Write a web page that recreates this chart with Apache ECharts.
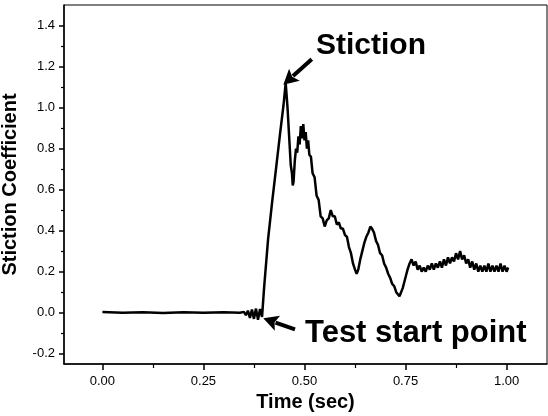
<!DOCTYPE html>
<html>
<head>
<meta charset="utf-8">
<script src="https://cdn.jsdelivr.net/npm/echarts@6/dist/echarts.min.js"></script>
<style>html,body{margin:0;padding:0;background:#fff}#c{width:548px;height:416px}</style>
</head>
<body>
<div id="c"></div>
<script>
var xTicks = [0, 0.25, 0.5, 0.75, 1.0];
var xMinorTicks = [0.125, 0.375, 0.625, 0.875];
var yTicks = [-0.2, 0, 0.2, 0.4, 0.6, 0.8, 1.0, 1.2, 1.4];
var yMinorTicks = [-0.1, 0.1, 0.3, 0.5, 0.7, 0.9, 1.1, 1.3];

var time = [0, 0.05, 0.10, 0.15, 0.20, 0.25, 0.30, 0.34, 0.35, 0.355, 0.36, 0.365, 0.37, 0.375, 0.38, 0.385, 0.39, 0.395,
  0.40, 0.41, 0.42, 0.43, 0.44, 0.448, 0.4535, 0.458, 0.462, 0.466, 0.469, 0.471, 0.473, 0.476, 0.479, 0.482, 0.485,
  0.488, 0.491, 0.494, 0.497, 0.50, 0.503, 0.506, 0.509, 0.512, 0.516, 0.52, 0.525, 0.53, 0.535, 0.54, 0.545, 0.55,
  0.555, 0.56, 0.565, 0.57, 0.575, 0.58, 0.585, 0.59, 0.595, 0.60, 0.605, 0.61, 0.615, 0.62, 0.625, 0.629, 0.633,
  0.638, 0.643, 0.648, 0.653, 0.658, 0.663, 0.667, 0.672, 0.677, 0.682, 0.687, 0.692, 0.697, 0.702, 0.707, 0.712,
  0.717, 0.722, 0.727, 0.731, 0.735, 0.739, 0.743, 0.747, 0.751, 0.755, 0.76, 0.765, 0.77, 0.775, 0.78, 0.785, 0.79,
  0.795, 0.80, 0.805, 0.81, 0.815, 0.82, 0.825, 0.83, 0.835, 0.84, 0.845, 0.85, 0.855, 0.86, 0.865, 0.87, 0.875, 0.88,
  0.885, 0.89, 0.895, 0.90, 0.905, 0.91, 0.915, 0.92, 0.925, 0.93, 0.935, 0.94, 0.945, 0.95, 0.955, 0.96, 0.965, 0.97,
  0.975, 0.98, 0.985, 0.99, 0.995, 1.00, 1.004];
var coefficient = [0.003, 0.000, 0.002, -0.001, 0.002, 0.000, 0.002, 0.000, 0.004, -0.012, 0.010, -0.025, 0.015, -0.03, 0.02, -0.035, 0.018, -0.02,
  0.12, 0.36, 0.54, 0.71, 0.88, 1.01, 1.12, 1.00, 0.86, 0.72, 0.68, 0.62, 0.64, 0.74, 0.80, 0.78, 0.86,
  0.82, 0.91, 0.85, 0.92, 0.84, 0.88, 0.80, 0.84, 0.77, 0.76, 0.68, 0.66, 0.57, 0.55, 0.47, 0.46, 0.42,
  0.45, 0.46, 0.50, 0.47, 0.47, 0.43, 0.44, 0.41, 0.41, 0.38, 0.37, 0.32, 0.29, 0.24, 0.21, 0.19, 0.21,
  0.26, 0.30, 0.34, 0.37, 0.39, 0.42, 0.41, 0.39, 0.35, 0.33, 0.29, 0.28, 0.24, 0.22, 0.19, 0.17,
  0.14, 0.13, 0.10, 0.09, 0.08, 0.10, 0.12, 0.15, 0.18, 0.21, 0.24, 0.26, 0.23, 0.25, 0.21, 0.23, 0.20,
  0.22, 0.20, 0.23, 0.21, 0.24, 0.21, 0.24, 0.22, 0.25, 0.22, 0.26, 0.23, 0.27, 0.24, 0.27, 0.25, 0.29, 0.26,
  0.30, 0.26, 0.28, 0.24, 0.26, 0.22, 0.25, 0.21, 0.24, 0.20, 0.23, 0.20, 0.23, 0.20, 0.24, 0.20, 0.23, 0.20,
  0.23, 0.20, 0.24, 0.20, 0.23, 0.20, 0.22];

var stictionArrow = {tail: [0.518, 1.236], tip: [0.4476, 1.111]};
var startArrow = {tail: [0.4765, -0.081], tip: [0.398, -0.027]};

var FONT = "'Liberation Sans', Arial, sans-serif";
var chart = echarts.init(document.getElementById('c'), null, {renderer: 'canvas'});
var pts = time.map(function (t, i) { return [t, coefficient[i]]; });

chart.setOption({
  animation: false,
  backgroundColor: '#fff',
  grid: {left: 64, right: 1, top: 5, bottom: 52, containLabel: false, outerBoundsMode: 'none',
    show: true, borderColor: '#000', borderWidth: 1, backgroundColor: 'transparent'},
  xAxis: [{
    type: 'value', min: -0.095, max: 1.1, position: 'bottom',
    name: 'Time (sec)', nameLocation: 'middle', nameGap: 28,
    nameTextStyle: {fontFamily: FONT, fontWeight: 'bold', fontSize: 20, color: '#000'},
    axisLine: {show: true, onZero: false, lineStyle: {color: '#000', width: 1.5}},
    axisTick: {show: true, inside: false, length: 6, customValues: xTicks, lineStyle: {color: '#000', width: 1.5}},
    axisLabel: {show: true, customValues: xTicks, margin: 11, fontFamily: FONT, fontSize: 13, color: '#000',
      formatter: function (v) { return v.toFixed(2); }},
    splitLine: {show: false}
  }, {
    type: 'value', min: -0.095, max: 1.1, position: 'bottom', offset: 0,
    axisLine: {show: false, onZero: false},
    axisTick: {show: true, length: 4, customValues: xMinorTicks, lineStyle: {color: '#000', width: 1.2}},
    axisLabel: {show: false}, splitLine: {show: false}
  }],
  yAxis: [{
    type: 'value', min: -0.25, max: 1.5, position: 'left',
    name: 'Stiction Coefficient', nameLocation: 'middle', nameGap: 44, nameRotate: 90,
    nameTextStyle: {fontFamily: FONT, fontWeight: 'bold', fontSize: 20, color: '#000'},
    axisLine: {show: true, onZero: false, lineStyle: {color: '#000', width: 1.5}},
    axisTick: {show: true, length: 5, customValues: yTicks, lineStyle: {color: '#000', width: 1.5}},
    axisLabel: {show: true, customValues: yTicks, margin: 9, fontFamily: FONT, fontSize: 13, color: '#000',
      formatter: function (v) { return v.toFixed(1); }},
    splitLine: {show: false}
  }, {
    type: 'value', min: -0.25, max: 1.5, position: 'left', offset: 0,
    axisLine: {show: false, onZero: false},
    axisTick: {show: true, length: 3, customValues: yMinorTicks, lineStyle: {color: '#000', width: 1.2}},
    axisLabel: {show: false}, splitLine: {show: false}
  }],
  series: [{
    type: 'line', xAxisIndex: 0, yAxisIndex: 0, data: pts, showSymbol: false,
    lineStyle: {color: '#000', width: 2.5}, z: 3
  }]
});

function px(p) { return chart.convertToPixel({xAxisIndex: 0, yAxisIndex: 0}, p); }
function arrow(a) {
  var t = px(a.tail), h = px(a.tip);
  var dx = h[0] - t[0], dy = h[1] - t[1], L = Math.sqrt(dx * dx + dy * dy);
  var ux = dx / L, uy = dy / L, nx = -uy, ny = ux;
  var hl = 15, hw = 8;
  var bx = h[0] - ux * hl, by = h[1] - uy * hl;
  return [
    {type: 'line', shape: {x1: t[0], y1: t[1], x2: bx + ux * 2, y2: by + uy * 2}, style: {stroke: '#000', lineWidth: 4}, z: 10},
    {type: 'polygon', shape: {points: [[h[0], h[1]], [bx + nx * hw, by + ny * hw], [bx + ux * 3, by + uy * 3], [bx - nx * hw, by - ny * hw]]},
      style: {fill: '#000'}, z: 10}
  ];
}
var g = [];
g = g.concat(arrow(stictionArrow), arrow(startArrow));
g.push({type: 'text', x: 316, y: 46, z: 10, style: {text: 'Stiction', font: 'bold 30px ' + FONT, fill: '#000', verticalAlign: 'middle', align: 'left'}});
g.push({type: 'text', x: 305, y: 333, z: 10, style: {text: 'Test start point', font: 'bold 31px ' + FONT, fill: '#000', verticalAlign: 'middle', align: 'left'}});
chart.setOption({graphic: g});
</script>
</body>
</html>
